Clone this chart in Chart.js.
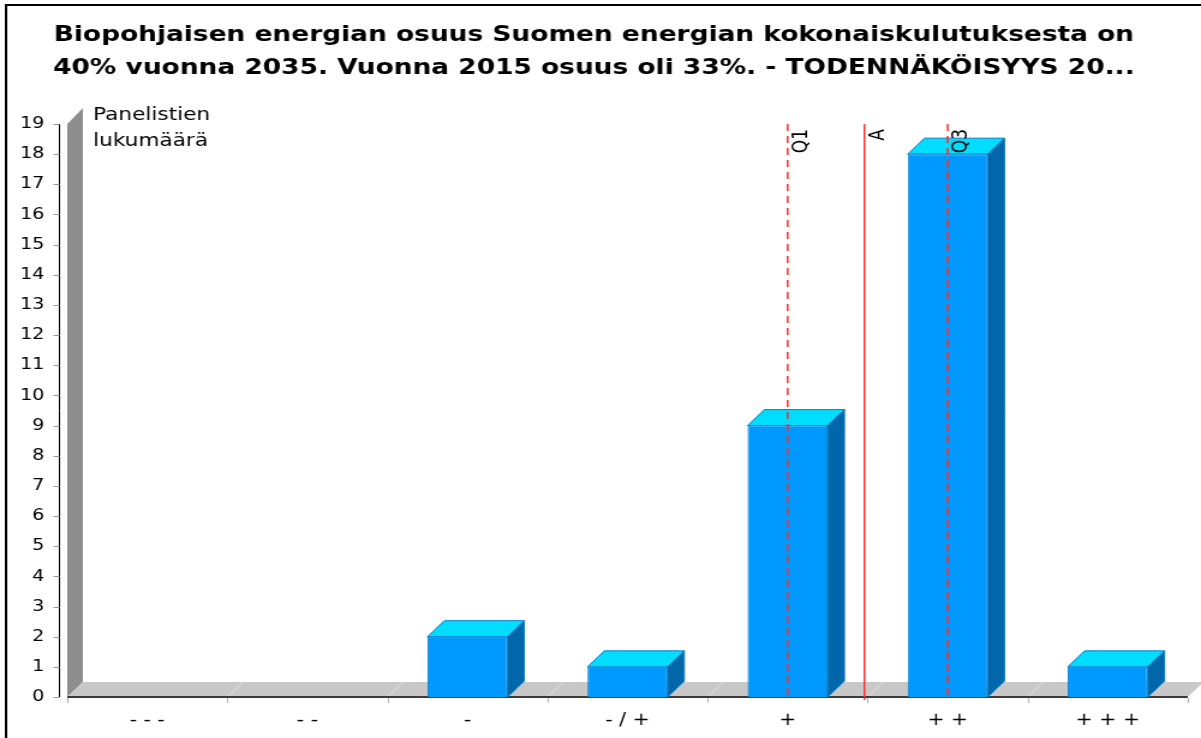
<!DOCTYPE html>
<html>
<head>
<meta charset="utf-8">
<script src="https://cdn.jsdelivr.net/npm/chart.js@4"></script>
<style>
  body { margin: 0; background: #fff; }
</style>
</head>
<body>
<!-- the original image is stretched sideways, so the canvas is too -->
<canvas id="chart" width="1000" height="738" style="width:1201px;height:738px;display:block"></canvas>
<script>
const categories = ["- - -", "- -", "-", "- / +", "+", "+ +", "+ + +"];
const counts = [0, 0, 2, 1, 9, 18, 1];
const yMax = 19;

const titleLines = [
  "Biopohjaisen energian osuus Suomen energian kokonaiskulutuksesta on",
  "40% vuonna 2035. Vuonna 2015 osuus oli 33%. - TODENNÄKÖISYYS 20...",
];
const axisTitleLines = ["Panelistien", "lukumäärä"];

// Q1, mean and Q3 marks, in category units
const markerNames = ["Q1", "A", "Q3"];
const markerValues = [4, 4.48, 5];
const markerDashed = [true, false, true];

const FRONT = "#0099ff";
const EDGE = "#0a7fcc";
const TOP = "#00ddff";
const SIDE = "#0067aa";

Chart.defaults.font.family = "DejaVu Sans";
Chart.defaults.color = "#000";

function line(ctx, x1, y1, x2, y2) {
  ctx.beginPath();
  ctx.moveTo(x1, y1);
  ctx.lineTo(x2, y2);
  ctx.stroke();
}

function poly(ctx, pts) {
  ctx.beginPath();
  ctx.moveTo(pts[0][0], pts[0][1]);
  for (let i = 1; i < pts.length; i++) ctx.lineTo(pts[i][0], pts[i][1]);
  ctx.closePath();
}

const boxLook = {
  id: "boxLook",
  beforeDraw(chart) {
    const ctx = chart.ctx;
    ctx.save();
    ctx.fillStyle = "#fff";
    ctx.fillRect(0, 0, chart.width, chart.height);
    ctx.strokeStyle = "#000";
    ctx.lineWidth = 2;
    ctx.beginPath();
    ctx.moveTo(5, chart.height);
    ctx.lineTo(5, 5);
    ctx.lineTo(chart.width, 5);
    ctx.stroke();
    ctx.restore();
  },
  beforeDatasetsDraw(chart) {
    const { ctx, chartArea: a, scales } = chart;
    const x = scales.x, y = scales.y;
    const dx = 13, dy = 15;
    const base = y.getPixelForValue(0);
    const top = y.getPixelForValue(yMax);
    ctx.save();

    // back wall
    ctx.fillStyle = "#8e8e8e";
    poly(ctx, [[a.left, base], [a.left, top], [a.left + dx, top - dy - 1], [a.left + dx, base - dy]]);
    ctx.fill();

    // floor
    ctx.fillStyle = "#c8c8c8";
    poly(ctx, [[a.left, base], [a.right, base], [a.right + dx, base - dy], [a.left + dx, base - dy]]);
    ctx.fill();

    ctx.strokeStyle = "#e4e4e4";
    ctx.lineWidth = 1;
    for (let i = 1; i <= categories.length; i++) {
      const bx = x.getPixelForValue(i - 0.5);
      line(ctx, bx, base, bx + dx, base - dy);
    }

    ctx.strokeStyle = "#3a3a3a";
    ctx.lineWidth = 2;
    line(ctx, a.left, base, a.right, base);

    ctx.strokeStyle = "#b0b0b0";
    ctx.lineWidth = 1;
    for (let i = 0; i <= categories.length; i++) {
      const bx = Math.round(x.getPixelForValue(i - 0.5)) + 0.5;
      line(ctx, bx, base + 1, bx, base + 6);
    }

    // y axis line with small ticks
    const ax = a.left - 6.5;
    ctx.strokeStyle = "#000";
    line(ctx, ax, top, ax, base);
    ctx.strokeStyle = "#9a9a9a";
    y.ticks.forEach((t) => {
      const py = Math.round(y.getPixelForValue(t.value)) + 0.5;
      line(ctx, ax - 5, py, ax, py);
    });
    ctx.restore();
  },
  afterDatasetsDraw(chart) {
    const { ctx, scales } = chart;
    const x = scales.x, y = scales.y;
    const dx = 14, dy = 16;
    ctx.save();

    // top and side faces of the bars
    const meta = chart.getDatasetMeta(0);
    meta.data.forEach((bar, i) => {
      if (!counts[i]) return;
      const p = bar.getProps(["x", "y", "base", "width"], true);
      const l = p.x - p.width / 2, r = p.x + p.width / 2;
      ctx.lineWidth = 1;
      ctx.strokeStyle = EDGE;
      ctx.fillStyle = TOP;
      poly(ctx, [[l, p.y], [l + dx, p.y - dy], [r + dx, p.y - dy], [r, p.y]]);
      ctx.fill();
      ctx.stroke();
      ctx.fillStyle = SIDE;
      poly(ctx, [[r, p.y], [r + dx, p.y - dy], [r + dx, p.base - dy], [r, p.base]]);
      ctx.fill();
      ctx.stroke();
    });

    // Q1 / A / Q3 lines
    const top = y.getPixelForValue(yMax);
    const base = y.getPixelForValue(0);
    markerValues.forEach((v, i) => {
      const mx = x.getPixelForValue(v);
      ctx.strokeStyle = "#ff2a2a";
      ctx.lineWidth = 1.5;
      ctx.setLineDash(markerDashed[i] ? [7, 5] : []);
      line(ctx, mx, top, mx, markerDashed[i] ? base : base + 3);
      ctx.setLineDash([]);

      ctx.save();
      ctx.translate(mx + 3, 129);
      ctx.rotate(-Math.PI / 2);
      ctx.fillStyle = "#000";
      ctx.font = "17px 'DejaVu Sans'";
      ctx.textAlign = "right";
      ctx.textBaseline = "top";
      ctx.fillText(markerNames[i], 0, 0);
      ctx.restore();
    });

    // axis title sits inside the plot
    ctx.fillStyle = "#000";
    ctx.font = "18px 'DejaVu Sans'";
    ctx.textAlign = "left";
    ctx.textBaseline = "alphabetic";
    axisTitleLines.forEach((t, i) => ctx.fillText(t, 77.5, 120 + i * 26));
    ctx.restore();
  },
};

new Chart(document.getElementById("chart"), {
  type: "bar",
  data: {
    labels: categories,
    datasets: [
      {
        data: counts,
        backgroundColor: FRONT,
        borderColor: EDGE,
        borderWidth: 1,
        barPercentage: 0.5,
        categoryPercentage: 1,
      },
    ],
  },
  options: {
    responsive: false,
    animation: false,
    devicePixelRatio: 1,
    layout: { padding: { left: 0, right: 11, top: 0, bottom: 0 } },
    plugins: {
      legend: { display: false },
      tooltip: { enabled: false },
      title: {
        display: true,
        text: titleLines,
        color: "#000",
        font: { size: 22, weight: "bold", lineHeight: 1.5 },
        padding: { top: 19, bottom: 39 },
      },
    },
    scales: {
      x: {
        grid: { display: false, drawTicks: false },
        border: { display: false },
        ticks: { font: { size: 17 }, color: "#000", padding: 13 },
        afterFit: (s) => { s.height = 41; },
      },
      y: {
        min: 0,
        max: yMax,
        grid: { display: false, drawTicks: false },
        border: { display: false },
        ticks: { stepSize: 1, font: { size: 16 }, color: "#000", padding: 19 },
        afterFit: (s) => { s.width = 56; },
      },
    },
  },
  plugins: [boxLook],
});
</script>
</body>
</html>
